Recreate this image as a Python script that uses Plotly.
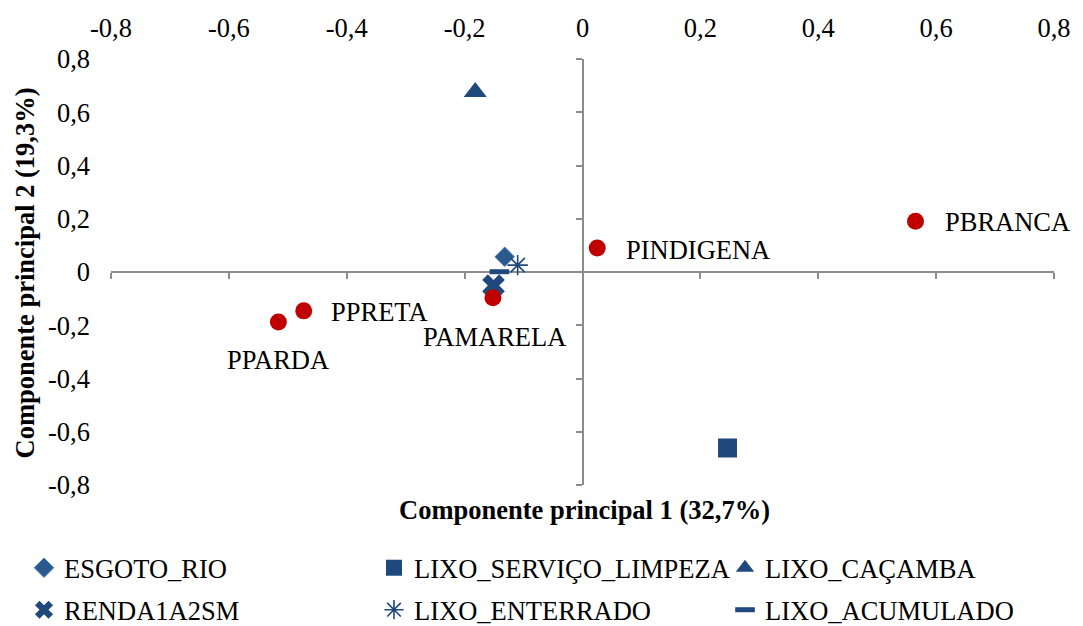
import plotly.graph_objects as go

# ---------------- data ----------------
tick_vals = [-0.8, -0.6, -0.4, -0.2, 0.0, 0.2, 0.4, 0.6, 0.8]
tick_text = ["-0,8", "-0,6", "-0,4", "-0,2", "0", "0,2", "0,4", "0,6", "0,8"]

pop_names = ["PBRANCA", "PINDIGENA", "PAMARELA", "PPRETA", "PPARDA"]
pop_pc1 = [0.565, 0.025, -0.152, -0.473, -0.516]
pop_pc2 = [0.191, 0.090, -0.097, -0.146, -0.188]

var_names = ["ESGOTO_RIO", "LIXO_SERVIÇO_LIMPEZA", "LIXO_CAÇAMBA",
             "RENDA1A2SM", "LIXO_ENTERRADO", "LIXO_ACUMULADO"]
var_pc1 = [-0.132, 0.246, -0.182, -0.151, -0.110, -0.141]
var_pc2 = [0.057, -0.661, 0.676, -0.051, 0.026, 0.001]

x_title = "Componente principal 1 (32,7%)"
y_title = "Componente principal 2 (19,3%)"

# ---------------- styles ----------------
W, H = 1083, 626
ML, MR, MT, MB = 111, 24, 59, 141
PW, PH = W - ML - MR, H - MT - MB

FONT = "Liberation Serif, Times New Roman, serif"
FS = 26.5
BLUE = "#1F497D"
RED = "#C00000"
AXIS_GRAY = "#8C8C8C"

var_styles = {
    "ESGOTO_RIO": dict(symbol="diamond", size=15, color="#2B5B8E",
                       line=dict(color="#4F81BD", width=1)),
    "LIXO_SERVIÇO_LIMPEZA": dict(symbol="square", size=19, color=BLUE),
    "LIXO_CAÇAMBA": dict(symbol="triangle-up", size=20, color=BLUE),
    "RENDA1A2SM": dict(symbol="x", size=20, color=BLUE),
    "LIXO_ENTERRADO": dict(symbol="asterisk-open", size=17, color=BLUE,
                           line=dict(color=BLUE, width=1.6)),
    "LIXO_ACUMULADO": dict(symbol="line-ew-open", size=14, color=BLUE,
                           line=dict(color=BLUE, width=5)),
}
# legend item positions (px, left edge of legend box; centre row y)
legend_pos = {"ESGOTO_RIO": (24, 568), "LIXO_SERVIÇO_LIMPEZA": (374, 568),
              "LIXO_CAÇAMBA": (725, 568), "RENDA1A2SM": (24, 610),
              "LIXO_ENTERRADO": (374, 610), "LIXO_ACUMULADO": (725, 610)}

# label placement (anchor, xshift px, yshift px)
label_place = {"PBRANCA": ("left", 27, -1), "PINDIGENA": ("left", 27, -2),
               "PAMARELA": ("center", 2, -39), "PPRETA": ("left", 25, -1),
               "PPARDA": ("center", 0, -38)}

fig = go.Figure()

# dummy trace on the label axes
fig.add_trace(go.Scatter(x=[None], y=[None], xaxis="x", yaxis="y",
                         showlegend=False, hoverinfo="skip"))

legend_layouts = {}
for i, (name, xv, yv) in enumerate(zip(var_names, var_pc1, var_pc2)):
    lname = "legend" if i == 0 else "legend%d" % (i + 1)
    fig.add_trace(go.Scatter(
        x=[xv], y=[yv], mode="markers", name=name,
        marker=var_styles[name], xaxis="x2", yaxis="y2", legend=lname))
    lx, ly = legend_pos[name]
    legend_layouts[lname] = dict(
        orientation="h", xref="container", yref="container",
        x=lx / W, y=1 - ly / H, xanchor="left", yanchor="middle",
        font=dict(family=FONT, size=FS, color="black"),
        bgcolor="rgba(0,0,0,0)", borderwidth=0,
        itemclick=False, itemdoubleclick=False)

fig.add_trace(go.Scatter(
    x=pop_pc1, y=pop_pc2, mode="markers", showlegend=False,
    marker=dict(symbol="circle", size=17, color=RED),
    xaxis="x2", yaxis="y2"))

for name, xv, yv in zip(pop_names, pop_pc1, pop_pc2):
    anc, xs, ys = label_place[name]
    fig.add_annotation(x=xv, y=yv, xref="x2", yref="y2", text=name,
                       showarrow=False, xanchor=anc, yanchor="middle",
                       xshift=xs, yshift=ys,
                       font=dict(family=FONT, size=FS, color="black"))

# axis titles (paper coords computed from pixel placement)
fig.add_annotation(x=(587 - ML) / PW, y=(MT + PH - 510) / PH, xref="paper", yref="paper",
                   text="<b>" + x_title + "</b>", showarrow=False,
                   xanchor="center", yanchor="middle",
                   font=dict(family=FONT, size=FS, color="black"))
fig.add_annotation(x=(25 - ML) / PW, y=(MT + PH - 273) / PH, xref="paper", yref="paper",
                   text="<b>" + y_title + "</b>", showarrow=False, textangle=-90,
                   xanchor="center", yanchor="middle",
                   font=dict(family=FONT, size=FS, color="black"))

common_lbl = dict(range=[-0.8, 0.8], tickvals=tick_vals, ticktext=tick_text,
                  showgrid=False, zeroline=False, showline=False, ticks="",
                  tickfont=dict(family=FONT, size=FS, color="black"),
                  fixedrange=True)
common_ln = dict(range=[-0.8, 0.8], tickvals=tick_vals, showticklabels=False,
                 showgrid=False, zeroline=False, showline=True,
                 linecolor=AXIS_GRAY, linewidth=1.5, ticks="outside",
                 ticklen=6, tickwidth=1.5, tickcolor=AXIS_GRAY,
                 anchor="free", position=0.5, layer="below traces",
                 fixedrange=True)

fig.update_layout(
    width=W, height=H, autosize=False,
    margin=dict(l=ML, r=MR, t=MT, b=MB),
    paper_bgcolor="white", plot_bgcolor="white",
    font=dict(family=FONT, size=FS, color="black"),
    xaxis=dict(side="top", ticklabelstandoff=16, **common_lbl),
    yaxis=dict(side="left", ticklabelstandoff=20, **common_lbl),
    xaxis2=dict(overlaying="x", side="bottom", **common_ln),
    yaxis2=dict(overlaying="y", side="left", **common_ln),
    showlegend=True,
    **legend_layouts,
)

fig.write_html("out.html")
